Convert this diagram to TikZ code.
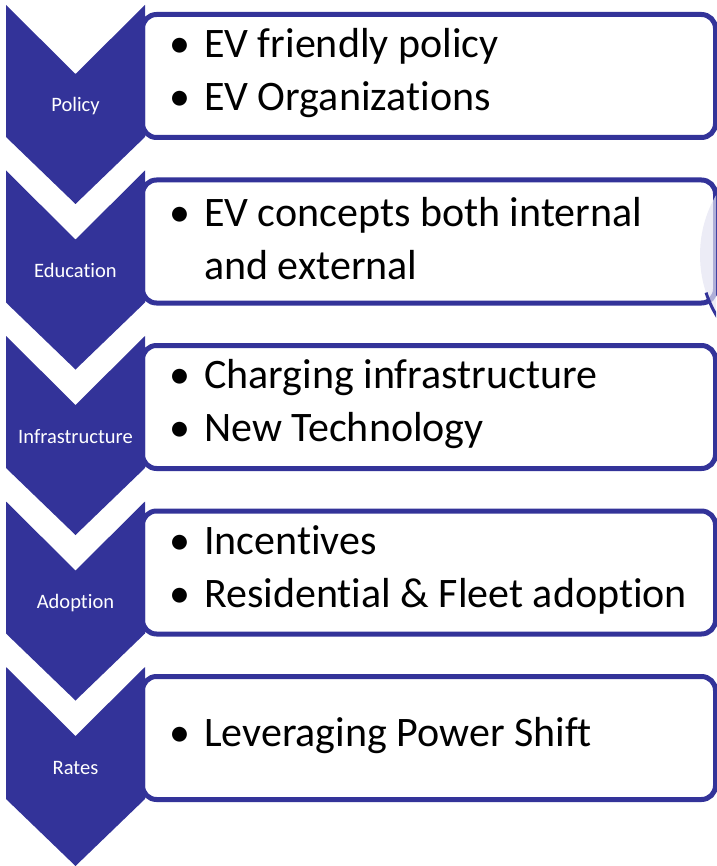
\documentclass[tikz,border=0pt]{standalone}
\usepackage{fontspec}
\setmainfont[RawFeature={-liga;-clig}]{Carlito}
\usetikzlibrary{arrows.meta, positioning, calc}
\definecolor{chevblue}{RGB}{51,51,153}
\definecolor{haze}{RGB}{228,228,243}
\newcommand{\bul}{\makebox[35pt][l]{\textbullet}}
\newcommand{\gap}{\hspace*{35pt}}

\begin{document}
\begin{tikzpicture}[x=1pt, y=-1pt,
    chev/.style={fill=chevblue},
    lbl/.style={text=white, anchor=base, font=\fontsize{20.5}{24}\selectfont},
    panel/.style={draw=chevblue, line width=5pt, fill=white, rounded corners=14pt,
                  minimum width=573pt, minimum height=123pt, anchor=north west, inner sep=0pt},
    items/.style={anchor=west, align=left, inner sep=0pt, font=\fontsize{42}{53}\selectfont}]
  \useasboundingbox (0,0) rectangle (716,866);

  % Panels with the bullet lists
  \foreach \i/\txt in {1/{\bul EV friendly policy\\\bul EV Organizations},
                       2/{\bul EV concepts both internal\\\gap and external},
                       3/{\bul Charging infrastructure\\\bul New Technology},
                       4/{\bul Incentives\\\bul Residential \& Fleet adoption},
                       5/{\bul Leveraging Power Shift}} {
    \pgfmathsetmacro\ytop{5+165.5*(\i-1)}
    \node[panel] (box\i) at (140,\ytop+7) {};
    \node[items] (txt\i) at (169,\ytop+68.5) {\txt};
  }

  % Faint disc cut off at the right edge
  \begin{scope}
    \clip (0,0) rectangle (716,866);
    \fill[haze, opacity=0.7] (800,255) ellipse (100 and 110);
    \draw[chevblue, line width=3pt] (800,255) ++(160:100 and 110) arc (160:140:100 and 110);
  \end{scope}

  % Chevrons down the left side
  \foreach \i/\name in {1/Policy, 2/Education, 3/Infrastructure, 4/Adoption, 5/Rates} {
    \pgfmathsetmacro\ytop{5+165.5*(\i-1)}
    \fill[chev] (6,\ytop) -- (75.5,\ytop+69) -- (145,\ytop) -- (145,\ytop+132)
      -- (75.5,\ytop+199) -- (6,\ytop+132) -- cycle;
    \node[lbl] (lbl\i) at (75.5,\ytop+107) {\name};
  }
\end{tikzpicture}
\end{document}
